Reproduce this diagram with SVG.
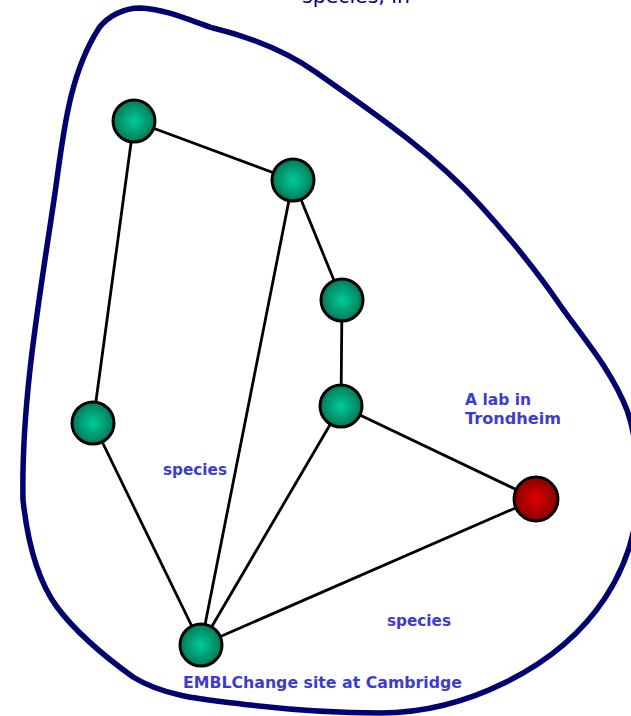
<svg xmlns="http://www.w3.org/2000/svg" width="631" height="716" viewBox="0 0 631 716">
  <style>
    .outline { fill: none; stroke: #000070; stroke-width: 5.5; stroke-linejoin: round; }
    .edge { stroke: #000; stroke-width: 2.8; fill: none; }
    .node { stroke: #000; stroke-width: 3; }
    .label { font-family: "DejaVu Sans", Verdana, sans-serif; font-weight: bold; font-size: 15.5px; fill: #3c3cd0; }
    .title { font-family: "DejaVu Sans", Verdana, sans-serif; font-size: 19px; fill: #000080; }
  </style>
  <defs>
    <radialGradient id="green" cx="50%" cy="50%" r="50%">
      <stop offset="0" stop-color="#00cc98"/>
      <stop offset="1" stop-color="#007a58"/>
    </radialGradient>
    <radialGradient id="red" cx="50%" cy="50%" r="50%">
      <stop offset="0" stop-color="#e00000"/>
      <stop offset="1" stop-color="#880000"/>
    </radialGradient>
  </defs>

  <rect width="631" height="716" fill="#fff"/>

  <!-- top caption, mostly above the page edge -->
  <text class="title" x="302" y="3" textLength="108" lengthAdjust="spacingAndGlyphs">species, in</text>

  <!-- enclosing boundary -->
  <path class="outline" d="M140,8 C165,9 189,20 213,28 C250,37 286,51 317,73 C374,113 433,153 480,205 C509,237 536,270 560,305 C584,339 612,371 627,410 C636,435 638,463 638,490 C638,528 626,566 605,598 C559,668 464,713 380,713 C337,713 293,710 250,705 C210,700 167,698 133,677 C104,656 77,634 57,607 C35,577 27,537 23,500 C21,400 40,295 55,193 C63,138 68,76 99,28 C108,16 124,8 140,8 Z"/>

  <g id="connectors">
    <line class="edge" x1="134" y1="121" x2="293" y2="180"/>
    <line class="edge" x1="134" y1="121" x2="93" y2="423"/>
    <line class="edge" x1="293" y1="180" x2="342" y2="300"/>
    <line class="edge" x1="293" y1="180" x2="201" y2="645"/>
    <line class="edge" x1="342" y1="300" x2="341" y2="406"/>
    <line class="edge" x1="341" y1="406" x2="536" y2="499"/>
    <line class="edge" x1="341" y1="406" x2="201" y2="645"/>
    <line class="edge" x1="93" y1="423" x2="201" y2="645"/>
    <line class="edge" x1="201" y1="645" x2="536" y2="499"/>
  </g>

  <g id="node-a"><circle class="node" cx="134" cy="121" r="21" fill="url(#green)"/></g>
  <g id="node-b"><circle class="node" cx="293" cy="180" r="21" fill="url(#green)"/></g>
  <g id="node-c"><circle class="node" cx="342" cy="300" r="21" fill="url(#green)"/></g>
  <g id="node-d"><circle class="node" cx="341" cy="406" r="21" fill="url(#green)"/></g>
  <g id="node-e"><circle class="node" cx="93" cy="423" r="21" fill="url(#green)"/></g>
  <g id="node-cambridge">
    <circle class="node" cx="201" cy="645" r="21" fill="url(#green)"/>
    <text class="label" x="183" y="688" textLength="279" lengthAdjust="spacingAndGlyphs">EMBLChange site at Cambridge</text>
  </g>
  <g id="node-trondheim">
    <circle class="node" cx="536" cy="499" r="22" fill="url(#red)"/>
    <text class="label" x="465" y="405" textLength="66" lengthAdjust="spacingAndGlyphs">A lab in</text>
    <text class="label" x="465" y="424" textLength="96" lengthAdjust="spacingAndGlyphs">Trondheim</text>
  </g>

  <g id="labels">
    <text class="label" x="163" y="475" textLength="64" lengthAdjust="spacingAndGlyphs">species</text>
    <text class="label" x="387" y="626" textLength="64" lengthAdjust="spacingAndGlyphs">species</text>
  </g>
</svg>
